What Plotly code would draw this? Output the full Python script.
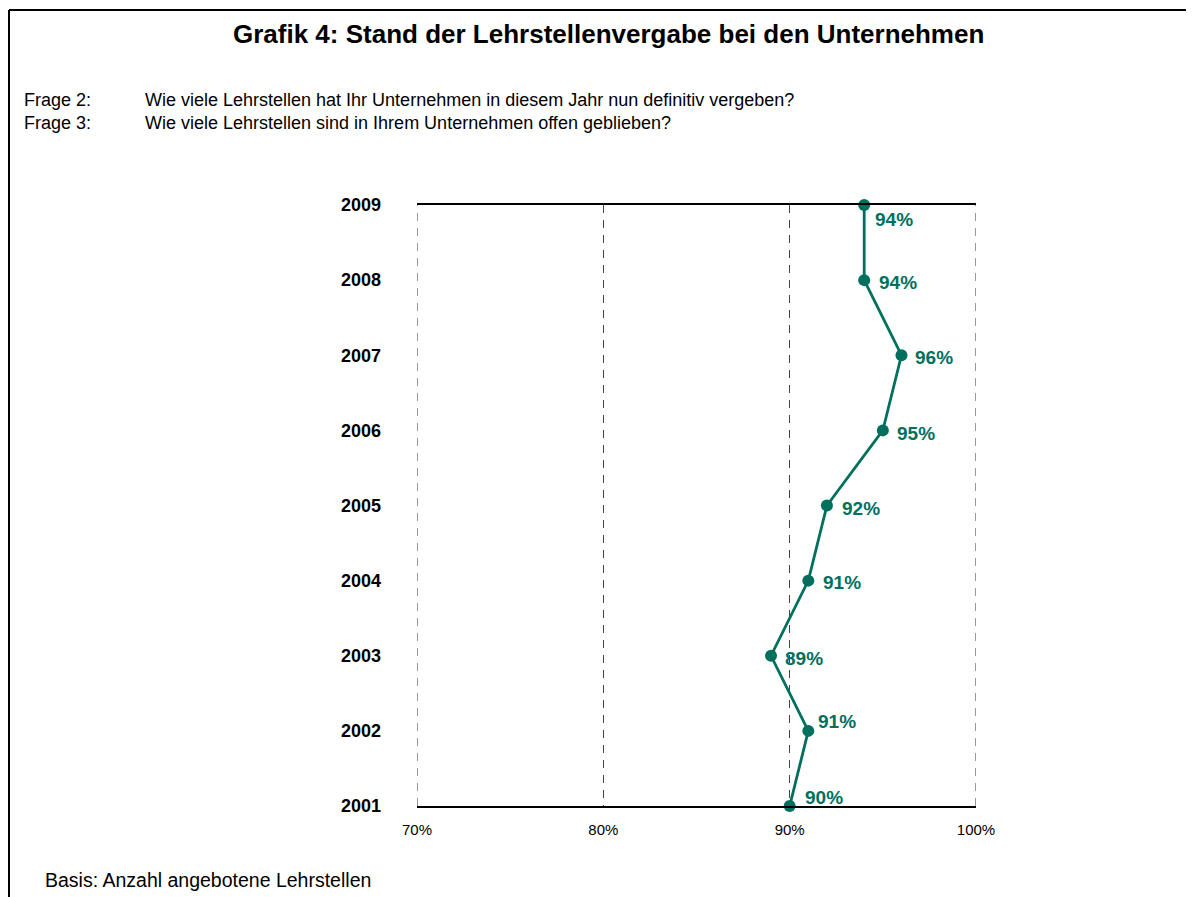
import plotly.graph_objects as go

# ---- data ----
years = [2001, 2002, 2003, 2004, 2005, 2006, 2007, 2008, 2009]
share = [90, 91, 89, 91, 92, 95, 96, 94, 94]
labels = ["90%", "91%", "89%", "91%", "92%", "95%", "96%", "94%", "94%"]
x_ticks = [70, 80, 90, 100]
x_ticklabels = ["70%", "80%", "90%", "100%"]

title_text = "Grafik 4: Stand der Lehrstellenvergabe bei den Unternehmen"
q_labels = ["Frage 2:", "Frage 3:"]
q_texts = [
    "Wie viele Lehrstellen hat Ihr Unternehmen in diesem Jahr nun definitiv vergeben?",
    "Wie viele Lehrstellen sind in Ihrem Unternehmen offen geblieben?",
]
basis_text = "Basis: Anzahl angebotene Lehrstellen"

# ---- style ----
OFF = 8  # page body margin
W, H = 1194 - OFF, 897 - OFF
ML, MR, MT, MB = 417 - OFF, 218, 205 - OFF, 91
TEAL = "#00705E"
FONT = "Arial, Liberation Sans, sans-serif"
# label offsets (pixels) relative to each marker: (dx, dy up)
label_dx = [13, 8, 12, 13, 13, 12, 12, 13, 9]
label_dy = [9, 9, -3, -2, -3, -3, -2, -2, -14]


def px(xp):
    return (xp - OFF - ML) / (W - ML - MR)


def py(yp):
    return (H - MB - (yp - OFF)) / (H - MT - MB)


fig = go.Figure()
fig.add_trace(go.Scatter(
    x=share, y=years, mode="lines+markers",
    line=dict(color=TEAL, width=2.8),
    marker=dict(color=TEAL, size=12),
    cliponaxis=False, hoverinfo="skip", showlegend=False,
))

fig.update_layout(
    width=W, height=H,
    margin=dict(l=ML, r=MR, t=MT, b=MB, pad=0),
    paper_bgcolor="white", plot_bgcolor="white",
    font=dict(family=FONT, color="black"),
    xaxis=dict(
        range=[70, 100], tickvals=x_ticks, ticktext=x_ticklabels,
        showgrid=True, gridcolor="#444444", griddash="8px,7px", gridwidth=1,
        zeroline=False, showline=True, linecolor="black", linewidth=1.5, mirror=True,
        ticks="", tickfont=dict(size=15, family=FONT, color="black"),
        ticklabelstandoff=9,
    ),
    yaxis=dict(
        range=[2001, 2009], tickvals=years, ticktext=[str(y) for y in years],
        showgrid=False, zeroline=False, showline=False, ticks="",
        tickfont=dict(size=18, family=FONT, color="black", weight="bold"),
        ticklabelstandoff=35,
    ),
)

# dashed edge lines at the range ends (70% and 100%)
for xv in (x_ticks[0], x_ticks[-1]):
    fig.add_shape(type="line", xref="x", yref="paper", x0=xv, x1=xv, y0=0, y1=1,
                  line=dict(color="#333333", width=1, dash="8px,7px"), layer="below")

annos = []
for x, y, t, dx, dy in zip(share, years, labels, label_dx, label_dy):
    annos.append(dict(text=f"<b>{t}</b>", x=x, y=y, xref="x", yref="y",
                      xanchor="left", yanchor="middle", xshift=dx, yshift=dy,
                      showarrow=False, font=dict(size=19, family=FONT, color=TEAL)))

paper_annos = [
    dict(text=f"<b>{title_text}</b>", x=px(608), y=py(34), xanchor="center", yanchor="middle",
         font=dict(size=26, family=FONT, color="black")),
    dict(text="<br>".join(q_labels), x=px(22), y=py(111.5), xanchor="left", yanchor="middle",
         align="left", font=dict(size=18, family=FONT, color="black")),
    dict(text="<br>".join(q_texts), x=px(143), y=py(111.5), xanchor="left", yanchor="middle",
         align="left", font=dict(size=18, family=FONT, color="black")),
    dict(text=basis_text, x=px(43), y=py(880), xanchor="left", yanchor="middle",
         font=dict(size=19.5, family=FONT, color="black")),
]
for a in paper_annos:
    a.update(xref="paper", yref="paper", showarrow=False)
fig.update_layout(annotations=annos + paper_annos)

# outer frame (top and left edges visible)
fig.add_shape(type="line", xref="paper", yref="paper", x0=px(9), x1=px(1210), y0=py(10), y1=py(10),
              line=dict(color="black", width=2))
fig.add_shape(type="line", xref="paper", yref="paper", x0=px(9), x1=px(9), y0=py(10), y1=py(910),
              line=dict(color="black", width=2))

fig.write_html("out.html")
